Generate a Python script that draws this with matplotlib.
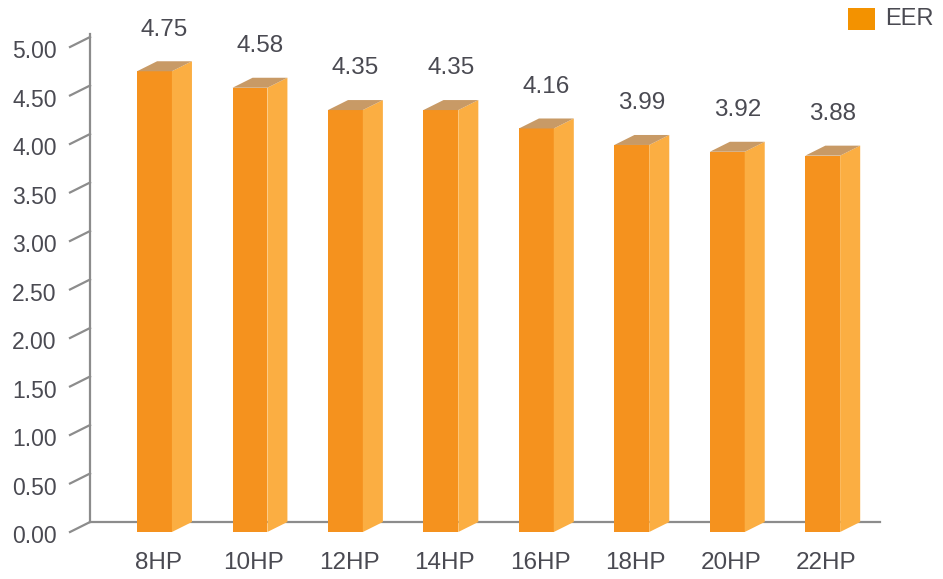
import matplotlib
matplotlib.use('Agg')
import matplotlib.pyplot as plt
from matplotlib.patches import Polygon, Rectangle

# Daten
kategorien = ['8HP', '10HP', '12HP', '14HP', '16HP', '18HP', '20HP', '22HP']
eer_werte = [4.75, 4.58, 4.35, 4.35, 4.16, 3.99, 3.92, 3.88]
y_ticks = [0.0, 0.5, 1.0, 1.5, 2.0, 2.5, 3.0, 3.5, 4.0, 4.5, 5.0]

# Farben
vorne = '#F5921E'
seite = '#FBAE42'
oben = '#C89A66'
achse = '#8c8c8c'
textfarbe = '#4a4a52'

plt.rcParams['font.family'] = ['Liberation Sans', 'DejaVu Sans']

fig = plt.figure(figsize=(9.43, 5.79), dpi=100)
W, H = 943, 579
# Achse so legen, dass y=0 bei Pixel 532 und y=5 bei Pixel 47 liegt
ax = fig.add_axes([70 / W, (H - 532) / H, 810 / W, 485 / H])
x0, x1 = -0.885, 7.6
ax.set_xlim(x0, x1)
ax.set_ylim(0, 5)
ax.axis('off')

dx = 0.21   # Tiefe horizontal
dy = 0.103  # Tiefe vertikal
bw = 0.365  # Breite Vorderseite

# Achsenlinien (Rückwand)
ax.plot([x0 + dx, x0 + dx], [dy, 5 + dy + 0.03], color=achse, lw=1.6, clip_on=False, zorder=1)
ax.plot([x0 + dx, x1], [dy, dy], color=achse, lw=1.6, clip_on=False, zorder=1)

for t in y_ticks:
    ax.plot([x0, x0 + dx], [t, t + dy], color=achse, lw=1.6, clip_on=False, zorder=1)
    ax.text(x0 - 0.14, t - 0.05, f'{t:.2f}', ha='right', va='center', fontsize=16.5,
            color=textfarbe, clip_on=False)

# 3D-Balken
for i, (k, v) in enumerate(zip(kategorien, eer_werte)):
    l = i - bw / 2
    r = i + bw / 2
    ax.add_patch(Polygon([(l, 0), (r, 0), (r, v), (l, v)], closed=True,
                         facecolor=vorne, edgecolor='none', zorder=3, clip_on=False))
    ax.add_patch(Polygon([(r, 0), (r + dx, dy), (r + dx, v + dy), (r, v)], closed=True,
                         facecolor=seite, edgecolor='none', zorder=3, clip_on=False))
    ax.add_patch(Polygon([(l, v), (r, v), (r + dx, v + dy), (l + dx, v + dy)], closed=True,
                         facecolor=oben, edgecolor='none', zorder=3, clip_on=False))
    ax.text(i + 0.105, v + 0.43, f'{v:.2f}', ha='center', va='center', fontsize=17.5,
            color=textfarbe, clip_on=False)
    ax.text(i + 0.04, -0.32, k, ha='center', va='center', fontsize=17.5,
            color=textfarbe, clip_on=False)

# Legende
fig.patches.append(Rectangle((848 / W, (H - 30) / H), 27 / W, 22 / H,
                             transform=fig.transFigure, facecolor='#F39200', edgecolor='none'))
fig.text(885 / W, (H - 19) / H, 'EER', ha='left', va='center', fontsize=17, color=textfarbe)

plt.savefig('out.png', dpi=100)
